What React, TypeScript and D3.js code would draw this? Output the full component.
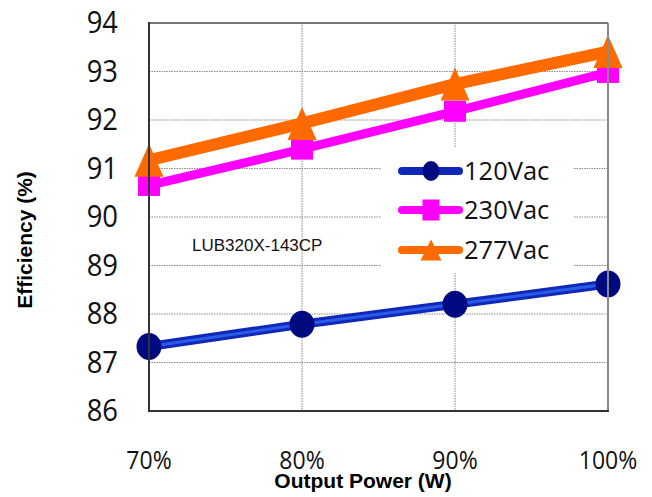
import React from "react";
import * as d3 from "d3";

const categories = ["70%", "80%", "90%", "100%"];
const v120 = [87.33, 87.79, 88.2, 88.62];
const v230 = [90.65, 91.4, 92.18, 92.98];
const v277 = [91.17, 91.93, 92.74, 93.41];
const yTicks = [86, 87, 88, 89, 90, 91, 92, 93, 94];
const seriesNames = ["120Vac", "230Vac", "277Vac"];
const modelLabel = "LUB320X-143CP";
const xTitle = "Output Power (W)";
const yTitle = "Efficiency (%)";

const W = 652;
const H = 497;
const L = 149, R = 608, T = 23, B = 411;

export default function App() {
  const x = d3.scalePoint<string>().domain(categories).range([L, R]).padding(0);
  const y = d3.scaleLinear().domain([86, 94]).range([B, T]);
  const line = (vals: number[]) =>
    d3.line<number>().x((_, i) => x(categories[i]) as number).y((v) => y(v))(vals) as string;

  const tri = (cx: number, cy: number, w: number, h: number) =>
    `M${cx},${cy - h / 2}L${cx + w / 2},${cy + h / 2}L${cx - w / 2},${cy + h / 2}Z`;

  const tickFont = "'Open Sans', sans-serif";
  const arial = "'Liberation Sans', Arial, sans-serif";
  const legY = [171, 210, 250];
  const legX0 = 402, legX1 = 459, legMx = 431;

  return (
    <svg width={W} height={H} style={{ position: "absolute", left: 0, top: 0, background: "#fff" }}>
      <rect x={0} y={0} width={W} height={H} fill="#fff" />
      {/* gridlines */}
      {yTicks.slice(1, -1).map((t) => (
        <line key={"h" + t} x1={L} x2={R} y1={y(t)} y2={y(t)} stroke="#8a8a8a" strokeWidth={1} strokeDasharray="1.5,1" />
      ))}
      {categories.slice(1, -1).map((c) => (
        <line key={"v" + c} x1={x(c)} x2={x(c)} y1={T} y2={B} stroke="#8a8a8a" strokeWidth={1} strokeDasharray="1.5,1" />
      ))}
      {/* legend box */}
      <rect x={381} y={148} width={193} height={124} fill="#fff" />

      {/* series lines */}
      <path d={line(v277)} fill="none" stroke="#ff6a00" strokeWidth={12} strokeLinejoin="round" />
      <path d={line(v230)} fill="none" stroke="#ff00ff" strokeWidth={9} strokeLinejoin="round" />
      <path d={line(v120)} fill="none" stroke="#1028b8" strokeWidth={9} strokeLinejoin="round" />
      <path d={line(v120)} fill="none" stroke="#2a5ae8" strokeWidth={3} strokeLinejoin="round" />

      {/* markers */}
      {v230.map((v, i) => (
        <rect key={"s" + i} x={(x(categories[i]) as number) - 11} y={y(v) - 10.5} width={22} height={21} fill="#ff00ff" />
      ))}
      {v277.map((v, i) => (
        <path key={"t" + i} d={tri(x(categories[i]) as number, y(v), 29, 33)} fill="#ff6a00" />
      ))}
      {v120.map((v, i) => (
        <ellipse key={"c" + i} cx={x(categories[i]) as number} cy={y(v)} rx={12.5} ry={13.5} fill="#000a80" />
      ))}

      {/* legend */}
      <line x1={legX0} x2={legX1} y1={legY[0]} y2={legY[0]} stroke="#1028b8" strokeWidth={8} strokeLinecap="round" />
      <ellipse cx={legMx} cy={legY[0]} rx={8.5} ry={10} fill="#000a80" />
      <line x1={legX0} x2={legX1} y1={legY[1]} y2={legY[1]} stroke="#ff00ff" strokeWidth={8} strokeLinecap="round" />
      <rect x={legMx - 8.5} y={legY[1] - 10.5} width={17} height={21} fill="#ff00ff" />
      <line x1={legX0} x2={legX1} y1={legY[2]} y2={legY[2]} stroke="#ff6a00" strokeWidth={8} strokeLinecap="round" />
      <path d={tri(legMx, legY[2], 21, 21)} fill="#ff6a00" />
      {seriesNames.map((n, i) => (
        <text key={n} transform={`translate(464,${legY[i]}) scale(1.02,1.05)`} dy="0.36em" fontFamily={tickFont} fontSize={25} fill="#111">
          {n}
        </text>
      ))}

      {/* border */}
      <line x1={L} x2={R} y1={T} y2={T} stroke="#777" strokeWidth={2} />
      <line x1={R} x2={R} y1={T} y2={B} stroke="#888" strokeWidth={2} />
      <line x1={L} x2={L} y1={T - 1} y2={B + 1} stroke="#333" strokeWidth={2} />
      <line x1={L} x2={R + 1} y1={B} y2={B} stroke="#333" strokeWidth={2} />

      {/* y tick labels */}
      {yTicks.map((t) => (
        <text key={"yt" + t} transform={`translate(118,${y(t) - 1}) scale(0.98,1.1)`} dy="0.36em" textAnchor="end" fontFamily={tickFont} fontSize={28} fill="#111">
          {t}
        </text>
      ))}
      {/* x tick labels */}
      {categories.map((c) => (
        <text key={"xt" + c} transform={`translate(${x(c) as number},460) scale(1,1.13)`} dy="0.36em" textAnchor="middle" fontFamily={tickFont} fontSize={23} fill="#111">
          {c}
        </text>
      ))}

      <text x={192} y={251} fontFamily={arial} fontSize={17} fill="#111">{modelLabel}</text>
      <text x={363} y={488} textAnchor="middle" fontFamily={arial} fontWeight="bold" fontSize={21} fill="#000">{xTitle}</text>
      <text transform="translate(32,240) rotate(-90)" textAnchor="middle" fontFamily={arial} fontWeight="bold" fontSize={21} fill="#000">{yTitle}</text>
    </svg>
  );
}
